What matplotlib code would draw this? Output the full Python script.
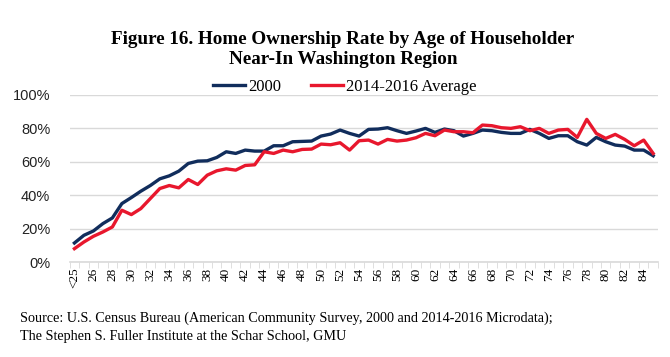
import matplotlib.pyplot as plt
from matplotlib.ticker import FuncFormatter

# age categories: <25, 25 ... 85
ages = ["<25"] + [str(a) for a in range(25, 86)]

rate_2000 = [11.4, 16, 18.6, 23, 26.4, 35, 38.6, 42.4, 45.8, 49.8,
             51.6, 54.4, 59, 60.4, 60.6, 62.6, 66, 65, 67, 66.4,
             66.4, 69.6, 69.6, 72, 72.2, 72.4, 75.4, 76.6, 79, 77,
             75.4, 79.4, 79.6, 80.4, 78.6, 77, 78.4, 80, 77.6, 79.6,
             78.6, 75.4, 77, 79, 78.6, 77.6, 77, 77, 79.4, 77,
             74, 75.6, 75.6, 72, 70, 74.6, 72, 70, 69.4, 67,
             67, 63.6]

rate_2014_2016 = [8, 12, 15.4, 18, 21, 31, 28.4, 32, 38, 44,
                  45.8, 44.4, 49.4, 46.4, 52, 54.6, 55.8, 55, 57.8, 58.2,
                  66, 65, 67, 66, 67.4, 67.6, 70.6, 70.2, 71.4, 67,
                  72.6, 73, 70.6, 73.4, 72.4, 73, 74.4, 77, 75.6, 79,
                  78, 78, 77.4, 82, 81.6, 80.4, 80, 81, 78.6, 80,
                  77, 79, 79.4, 74.6, 85.4, 77, 74, 76.4, 73.4, 69.6,
                  73, 65]

serif = "Liberation Serif"
sans = "Liberation Sans"

fig = plt.figure(figsize=(6.7, 3.57), dpi=100)
ax = fig.add_axes([0.104, 0.266, 0.878, 0.468])

x = list(range(len(ages)))
ax.plot(x, rate_2000, color="#112d5c", linewidth=2.4, label="2000",
        solid_joinstyle="round")
ax.plot(x, rate_2014_2016, color="#e8172d", linewidth=2.4,
        label="2014-2016 Average", solid_joinstyle="round")

ax.set_xlim(-0.5, len(ages) - 0.5)
ax.set_ylim(0, 100)
ax.set_yticks(range(0, 101, 20))
ax.yaxis.set_major_formatter(FuncFormatter(lambda v, p: f"{int(v)}%"))
ax.grid(axis="y", color="#d9d9d9", linewidth=1)
ax.set_axisbelow(True)

ax.set_xticks(x[::2])
ax.set_xticklabels(ages[::2], rotation=90, fontsize=9.5, family=serif)
ax.set_xticks([i - 0.5 for i in range(len(ages) + 1)], minor=True)
ax.tick_params(axis="x", which="major", length=0, pad=4)
ax.tick_params(axis="x", which="minor", length=4, color="#d9d9d9")
ax.tick_params(axis="y", length=0, pad=14, labelcolor="#222222")
for lbl in ax.get_yticklabels():
    lbl.set_family(sans)
    lbl.set_fontsize(10.5)

for s in ["top", "right", "left"]:
    ax.spines[s].set_visible(False)
ax.spines["bottom"].set_color("#d9d9d9")
ax.spines["bottom"].set_linewidth(1.2)

fig.text(0.512, 0.888, "Figure 16. Home Ownership Rate by Age of Householder",
         ha="center", va="center", fontsize=13.8, fontweight="bold", family=serif)
fig.text(0.512, 0.832, "Near-In Washington Region",
         ha="center", va="center", fontsize=13.8, fontweight="bold", family=serif)

leg = fig.legend(loc="center", bbox_to_anchor=(0.515, 0.757), ncol=2, frameon=False,
                 prop={"family": serif, "size": 12}, handlelength=1.9,
                 handletextpad=0.2, columnspacing=1.8)

fig.text(0.03, 0.108, "Source: U.S. Census Bureau (American Community Survey, 2000 and 2014-2016 Microdata);",
         ha="left", va="center", fontsize=10.2, family=serif)
fig.text(0.03, 0.058, "The Stephen S. Fuller Institute at the Schar School, GMU",
         ha="left", va="center", fontsize=10.2, family=serif)

fig.savefig("out.png", dpi=100)
